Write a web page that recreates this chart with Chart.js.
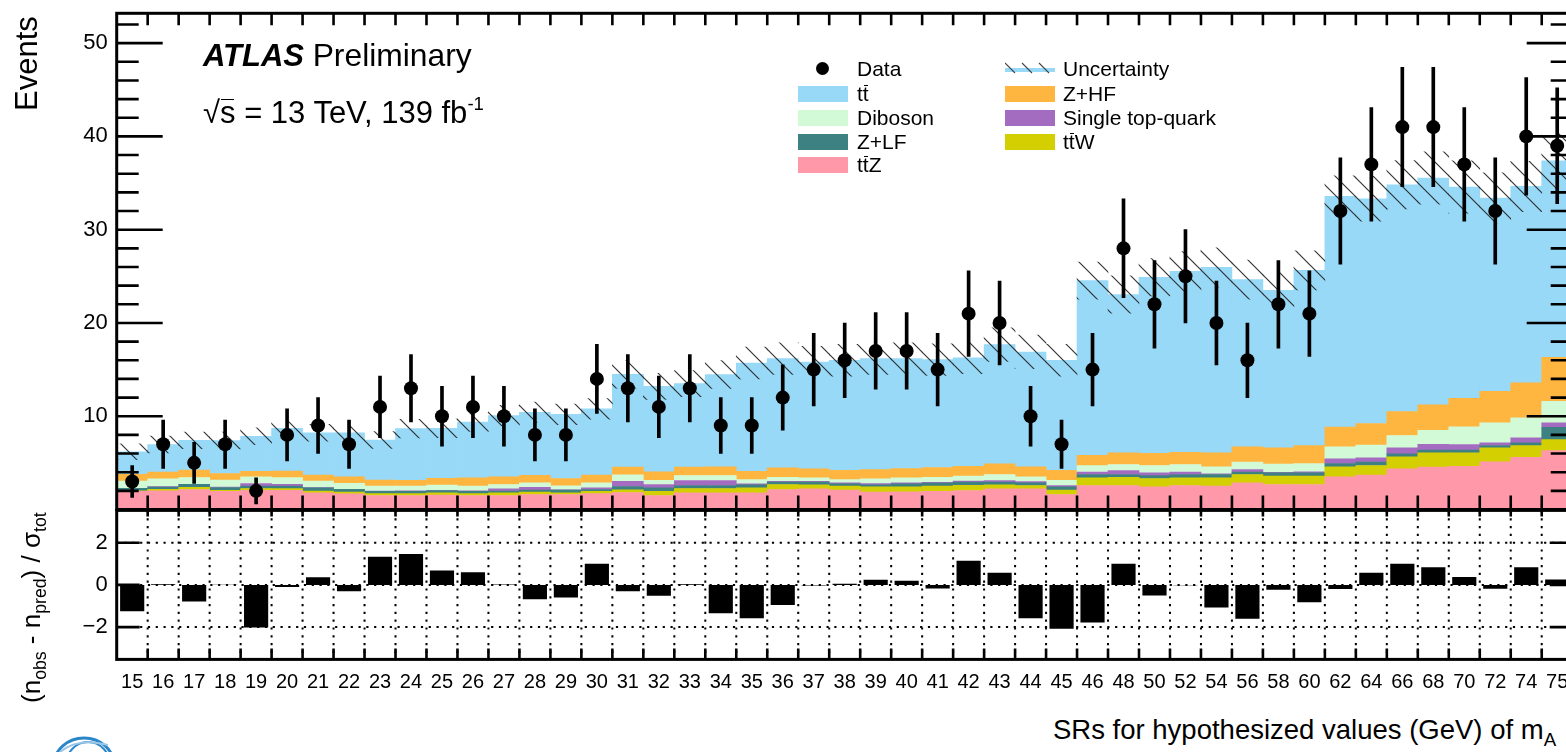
<!DOCTYPE html>
<html>
<head>
<meta charset="utf-8">
<script src="https://cdn.jsdelivr.net/npm/chart.js@4.4.0/dist/chart.umd.min.js"></script>
<style>
  html, body { margin: 0; padding: 0; background: #fff; overflow: hidden; width: 1566px; height: 752px; }
  body { position: relative; font-family: "Liberation Sans", Arial, Helvetica, sans-serif; color: #000; }
  .cv { position: absolute; left: 0; }
  canvas { display: block; }
  .t { position: absolute; white-space: nowrap; line-height: 1; z-index: 5; }
  .rot { transform: rotate(-90deg); transform-origin: 0 0; }
  .ov { position: relative; }
  .ov::after { content: ""; position: absolute; left: 0.04em; right: 0.04em; top: 0.13em; border-top: 1.6px solid #000; }
  .sw { position: absolute; width: 50px; height: 16px; z-index: 5; }
  .leg { font-size: 21px; }
  sub { font-size: 0.68em; vertical-align: -0.35em; line-height: 0; }
  sup { font-size: 0.6em; vertical-align: 0.7em; line-height: 0; }
</style>
</head>
<body>
<div class="cv" style="top:0"><canvas id="main" width="1600" height="520"></canvas></div>
<div class="cv" style="top:500px"><canvas id="ratio" width="1600" height="200"></canvas></div>

<!-- axis titles -->
<div class="t rot" style="left:11px;top:111px;font-size:31px;">Events</div>
<div class="t rot" style="left:18px;top:703px;font-size:26px;">(n<sub>obs</sub> - n<sub>pred</sub>) / σ<sub>tot</sub></div>
<div class="t" style="left:1053px;top:716px;font-size:27.5px;">SRs for hypothesized values (GeV) of m<sub>A</sub></div>

<!-- experiment label -->
<div class="t" style="left:203px;top:40px;font-size:31px;"><b><i>ATLAS</i></b> <span style="font-size:31.8px">Preliminary</span></div>
<div class="t" style="left:203px;top:97px;font-size:31px;">√<span class="ov">s</span> = 13 TeV, 139 fb<sup>-1</sup></div>

<!-- legend -->
<div style="position:absolute;left:816px;top:62px;width:13px;height:13px;border-radius:50%;background:#000;z-index:5"></div>
<div class="t leg" style="left:857px;top:58px;">Data</div>
<div class="sw" style="left:798px;top:86px;background:#97d9f7"></div>
<div class="t leg" style="left:857px;top:83px;">t<span class="ov">t</span></div>
<div class="sw" style="left:798px;top:110px;background:#d3fad6"></div>
<div class="t leg" style="left:857px;top:107px;">Diboson</div>
<div class="sw" style="left:798px;top:134px;background:#3d8183"></div>
<div class="t leg" style="left:857px;top:131px;">Z+LF</div>
<div class="sw" style="left:798px;top:157px;background:#ff99aa"></div>
<div class="t leg" style="left:857px;top:154px;">t<span class="ov">t</span>Z</div>

<svg style="position:absolute;left:1005px;top:60px;z-index:5" width="50" height="18" viewBox="0 0 50 18">
  <rect x="0" y="8" width="50" height="4" fill="#97d9f7"/>
  <g stroke="#444" stroke-width="1.1">
    <line x1="0" y1="3" x2="10" y2="13"/>
    <line x1="17" y1="3" x2="27" y2="13"/>
    <line x1="34" y1="3" x2="44" y2="13"/>
  </g>
</svg>
<div class="t leg" style="left:1063px;top:58px;">Uncertainty</div>
<div class="sw" style="left:1005px;top:86px;background:#ffb640"></div>
<div class="t leg" style="left:1063px;top:83px;">Z+HF</div>
<div class="sw" style="left:1005px;top:110px;background:#a46cc0"></div>
<div class="t leg" style="left:1063px;top:107px;">Single top-quark</div>
<div class="sw" style="left:1005px;top:134px;background:#d4cf00"></div>
<div class="t leg" style="left:1063px;top:131px;">t<span class="ov">t</span>W</div>

<!-- logo corner -->
<svg style="position:absolute;left:48px;top:733px;z-index:5" width="72" height="19" viewBox="0 0 72 19">
  <ellipse cx="36" cy="32" rx="30" ry="27" fill="none" stroke="#2a86c9" stroke-width="3"/>
  <ellipse cx="40" cy="32" rx="22" ry="23" fill="none" stroke="#2a86c9" stroke-width="2"/>
  <path d="M12 19 Q 30 4 60 12" fill="none" stroke="#9cc6e8" stroke-width="2"/>
</svg>

<script>
// Signal-region bins (hypothesized m_A in GeV)
const binLabels = ['15','16','17','18','19','20','21','22','23','24','25','26','27','28','29','30',
  '31','32','33','34','35','36','37','38','39','40','41','42','43','44','45','46',
  '48','50','52','54','56','58','60','62','64','66','68','70','72','74','75'];

const mainYTicks = [10, 20, 30, 40, 50];
const ratioYTicks = [-2, 0, 2];

// Background predictions per bin (events)
const ttz = [1.96,2.0,2.14,1.96,2.05,2.05,1.79,1.68,1.5,1.5, 1.54,1.5,1.5,1.61,1.61,1.71,1.82,1.5,1.79,1.79,
  1.79,2.14,2.21,2.07,1.86,1.89,1.96,2.04,2.21,2.21, 1.61,2.57,2.57,2.43,2.57,2.5,2.86,2.68,2.68,3.5,
  3.68,4.36,4.54,4.64,5.11,5.6,6.32];
const ttw = [0.05,0.15,0.25,0.1,0.2,0.18,0.18,0.18,0.21,0.2, 0.25,0.2,0.29,0.25,0.18,0.25,0.29,0.46,0.46,0.46,
  0.54,0.54,0.43,0.43,0.57,0.54,0.54,0.54,0.43,0.36, 0.46,0.82,0.89,0.89,0.82,0.89,0.89,0.89,0.89,1.07,
  1.04,1.29,1.54,1.43,1.5,1.25,1.18];
const zlf = [0.25,0.25,0.3,0.3,0.25,0.29,0.36,0.29,0.25,0.25, 0.25,0.25,0.18,0.21,0.29,0.18,0.36,0.36,0.32,0.32,
  0.32,0.25,0.29,0.25,0.21,0.32,0.32,0.36,0.29,0.29, 0.36,0.36,0.29,0.32,0.36,0.36,0.25,0.36,0.36,0.36,
  0.36,0.32,0.29,0.29,0.25,0.29,1.32];
const singleTop = [0,0.05,0.02,0.05,0.29,0.18,0.02,0.02,0.02,0.05, 0.02,0.05,0.25,0.32,0.02,0.18,0.54,0.36,0.54,0.54,
  0.1,0.1,0.1,0.1,0.14,0.1,0.1,0.1,0.18,0.14, 0.14,0.25,0.43,0.29,0.25,0.07,0.29,0.05,0.1,0.5,
  0.46,0.64,0.61,0.61,0.29,0.54,0.46];
const diboson = [0.79,0.85,0.72,0.74,0.71,0.71,0.71,0.64,0.54,0.5, 0.57,0.5,0.46,0.46,0.43,0.54,0.71,0.46,0.54,0.54,
  0.46,0.43,0.36,0.36,0.5,0.54,0.54,0.54,0.64,0.5, 0.57,0.71,0.64,0.79,0.82,0.75,0.79,0.89,0.89,1.29,
  1.36,1.32,1.5,1.89,2.14,2.14,2.32];
const zhf = [0.71,0.7,0.8,0.71,0.6,0.71,0.64,0.68,0.64,0.64, 0.71,0.89,0.82,0.82,0.79,0.82,0.82,0.89,0.89,0.93,
  0.89,1.0,0.96,1.0,1.0,1.0,1.04,1.04,1.14,1.07, 1.07,1.11,1.25,1.29,1.32,1.5,1.64,1.75,1.93,2.11,
  2.32,2.57,2.75,3.07,3.39,3.75,4.71];
const ttbar = [2.43,2.96,3.18,3.53,3.75,4.57,4.53,4.74,4.29,5.54, 5.36,5.97,6.57,6.76,6.88,7.11,9.96,9.18,8.96,9.89,
  11.61,11.72,11.45,11.79,11.9,11.79,11.57,11.63,12.79,12.32, 11.79,18.72,16.97,18.89,19.4,19.89,17.92,16.89,18.79,24.74,
  24.1,24.32,24.31,22.64,20.71,21.07,21.08];

// Total background uncertainty (events)
const bkgUnc = [0.85,0.9,0.9,0.9,0.9,0.9,0.9,0.9,0.9,1.0, 1.0,1.0,1.1,1.1,1.1,1.1,1.5,1.4,1.4,1.5,
  1.7,1.7,1.7,1.7,1.7,1.7,1.7,1.7,1.8,1.8, 1.7,2.0,2.0,2.0,2.1,2.1,2.1,2.0,2.1,2.2,
  2.4,2.6,2.8,2.8,2.7,2.7,3.0];

// Observed events and their statistical errors
const observed = [3,7,5,7,2,8,9,7,11,13, 10,11,10,8,8,14,13,11,13,9, 9,12,15,16,17,17,15,21,20,10,
  7,15,28,22,25,20,16,22,21,32, 37,41,41,37,32,40,39];
const observedErr = [1.7,2.6,2.2,2.6,1.4,2.8,3.0,2.6,3.3,3.6, 3.2,3.3,3.2,2.8,2.8,3.7,3.6,3.3,3.6,3.0,
  3.0,3.5,3.9,4.0,4.1,4.1,3.9,4.6,4.5,3.2, 2.6,3.9,5.3,4.7,5.0,4.5,4.0,4.7,4.6,5.7,
  6.1,6.4,6.4,6.1,5.7,6.3,6.2];

// Significance (n_obs - n_pred) / sigma_tot
const pulls = [-1.25,0.03,-0.79,0.01,-2.02,-0.1,0.36,-0.3,1.33,1.47, 0.68,0.6,0.02,-0.68,-0.6,1.0,-0.3,-0.52,0.03,-1.34,
  -1.58,-0.95,-0.03,0.05,0.24,0.2,-0.17,1.15,0.57,-1.58, -2.08,-1.78,1.0,-0.5,-0.02,-1.07,-1.6,-0.23,-0.82,-0.2,
  0.58,1.0,0.84,0.38,-0.18,0.84,0.25];

const FONT = 'Liberation Sans, Arial, Helvetica, sans-serif';

// Stack order: first entry sits at the bottom
const components = [
  { label: 'ttZ', data: ttz, color: '#ff99aa' },
  { label: 'ttW', data: ttw, color: '#d4cf00' },
  { label: 'Z+LF', data: zlf, color: '#3d8183' },
  { label: 'Single top-quark', data: singleTop, color: '#a46cc0' },
  { label: 'Diboson', data: diboson, color: '#d3fad6' },
  { label: 'Z+HF', data: zhf, color: '#ffb640' },
  { label: 'tt', data: ttbar, color: '#97d9f7' }
];

const total = binLabels.map((_, i) => components.reduce((s, c) => s + c.data[i], 0));
const uncBand = total.map((t, i) => [t - bkgUnc[i], t + bkgUnc[i]]);
const errBars = observed.map((n, i) => [n - observedErr[i], n + observedErr[i]]);

// Diagonal hatch for the uncertainty band
function makeHatch(ctx) {
  const s = 19;
  const c = document.createElement('canvas');
  c.width = s; c.height = s;
  const g = c.getContext('2d');
  g.strokeStyle = 'rgba(40,40,40,0.95)';
  g.lineWidth = 1.15;
  g.beginPath();
  g.moveTo(-2, -2); g.lineTo(s + 2, s + 2);
  g.moveTo(-2, s - 2); g.lineTo(2, s + 2);
  g.moveTo(s - 2, -2); g.lineTo(s + 2, 2);
  g.stroke();
  return ctx.createPattern(c, 'repeat');
}

// Keep the plotting area exactly where the layout padding puts it
function fixedWidth(w) {
  return s => { s.width = w; s.paddingTop = 0; s.paddingBottom = 0; };
}

// Frame, inward tick marks and dotted grid
const rootFrame = {
  id: 'rootFrame',
  beforeDatasetsDraw(chart, args, o) {
    if (!o.dotted) return;
    const { ctx, chartArea: a, scales: { x, y } } = chart;
    ctx.save();
    ctx.strokeStyle = '#000';
    ctx.lineWidth = 2;
    ctx.setLineDash([2.2, 5.6]);
    ctx.beginPath();
    const n = chart.data.labels.length;
    for (let i = 1; i < n; i++) {
      const px = (x.getPixelForValue(i - 1) + x.getPixelForValue(i)) / 2;
      ctx.moveTo(px, a.top); ctx.lineTo(px, a.bottom);
    }
    for (const v of o.dotted) {
      const py = y.getPixelForValue(v);
      ctx.moveTo(a.left, py); ctx.lineTo(a.right, py);
    }
    ctx.stroke();
    ctx.restore();
  },
  afterDraw(chart, args, o) {
    const { ctx, chartArea: a, scales: { x, y } } = chart;
    ctx.save();
    ctx.strokeStyle = '#000';
    ctx.setLineDash([]);
    ctx.lineWidth = 2.6;
    ctx.beginPath();
    const n = chart.data.labels.length;
    for (let i = 1; i < n; i++) {
      const px = (x.getPixelForValue(i - 1) + x.getPixelForValue(i)) / 2;
      if (o.tickBottom) { ctx.moveTo(px, a.bottom); ctx.lineTo(px, a.bottom - o.tickBottom); }
      if (o.tickTop) { ctx.moveTo(px, a.top); ctx.lineTo(px, a.top + o.tickTop); }
    }
    for (const v of o.major) {
      const py = y.getPixelForValue(v);
      ctx.moveTo(a.left, py); ctx.lineTo(a.left + o.majorLen, py);
      ctx.moveTo(a.right, py); ctx.lineTo(a.right - o.majorLen, py);
    }
    for (const v of (o.minor || [])) {
      const py = y.getPixelForValue(v);
      ctx.moveTo(a.left, py); ctx.lineTo(a.left + o.minorLen, py);
      ctx.moveTo(a.right, py); ctx.lineTo(a.right - o.minorLen, py);
    }
    ctx.stroke();
    ctx.lineWidth = 3;
    ctx.strokeRect(a.left, a.top, a.right - a.left, a.bottom - a.top);
    ctx.restore();
  }
};

const mainMinor = [];
for (let v = 2; v <= 52; v += 2) if (v % 10 !== 0) mainMinor.push(v);

const mainCtx = document.getElementById('main').getContext('2d');
const hatch = makeHatch(mainCtx);

const stackSets = components.map(c => ({
  type: 'bar',
  label: c.label,
  data: c.data,
  backgroundColor: c.color,
  borderWidth: 0,
  stack: 'bkg',
  order: 3,
  barPercentage: 1,
  categoryPercentage: 1
}));

new Chart(mainCtx, {
  type: 'bar',
  data: {
    labels: binLabels,
    datasets: [
      {
        type: 'line',
        label: 'Data',
        data: observed,
        showLine: false,
        pointRadius: 7,
        pointBackgroundColor: '#000',
        pointBorderWidth: 0,
        stack: 'pts',
        order: 0
      },
      {
        type: 'bar',
        label: 'Data error',
        data: errBars,
        backgroundColor: '#000',
        borderWidth: 0,
        barThickness: 3,
        grouped: false,
        stack: 'err',
        order: 1
      },
      {
        type: 'bar',
        label: 'Uncertainty',
        data: uncBand,
        backgroundColor: hatch,
        borderWidth: 0,
        grouped: false,
        stack: 'unc',
        order: 2,
        barPercentage: 1,
        categoryPercentage: 1
      },
      ...stackSets
    ]
  },
  options: {
    responsive: false,
    animation: false,
    events: [],
    layout: { padding: { top: 13.3, right: 27.3, bottom: 10.5, left: 0 } },
    plugins: {
      legend: { display: false },
      tooltip: { enabled: false },
      rootFrame: { major: mainYTicks, majorLen: 46, minor: mainMinor, minorLen: 22, tickTop: 12, tickBottom: 14 }
    },
    scales: {
      x: { type: 'category', stacked: true, display: false, offset: true, grid: { display: false } },
      y: {
        stacked: true,
        min: 0, max: 53.2,
        afterBuildTicks: s => { s.ticks = mainYTicks.map(v => ({ value: v })); },
        afterFit: fixedWidth(116.7),
        grid: { display: false, drawTicks: false },
        border: { display: false },
        ticks: { font: { family: FONT, size: 22 }, color: '#000', padding: 9 }
      }
    }
  },
  plugins: [rootFrame]
});

new Chart(document.getElementById('ratio').getContext('2d'), {
  type: 'bar',
  data: {
    labels: binLabels,
    datasets: [{
      label: 'Significance',
      data: pulls,
      backgroundColor: '#000',
      borderWidth: 0,
      barPercentage: 0.78,
      categoryPercentage: 1
    }]
  },
  options: {
    responsive: false,
    animation: false,
    events: [],
    layout: { padding: { top: 10.4, right: 27.3, bottom: 0, left: 0 } },
    plugins: {
      legend: { display: false },
      tooltip: { enabled: false },
      rootFrame: { major: ratioYTicks, majorLen: 23, tickTop: 6, tickBottom: 11, dotted: ratioYTicks }
    },
    scales: {
      x: {
        type: 'category', offset: true,
        grid: { display: false, drawTicks: false },
        border: { display: false },
        ticks: { autoSkip: false, maxRotation: 0, minRotation: 0, font: { family: FONT, size: 20 }, color: '#000', padding: 11 },
        afterFit: s => { s.height = 40.6; s.paddingLeft = 0; s.paddingRight = 0; }
      },
      y: {
        min: -3.53, max: 3.53,
        afterBuildTicks: s => { s.ticks = ratioYTicks.map(v => ({ value: v })); },
        afterFit: fixedWidth(116.7),
        grid: { display: false, drawTicks: false },
        border: { display: false },
        ticks: { font: { family: FONT, size: 22 }, color: '#000', padding: 9, callback: v => (v < 0 ? '\u2212' + Math.abs(v) : String(v)) }
      }
    }
  },
  plugins: [rootFrame]
});
</script>
</body>
</html>
